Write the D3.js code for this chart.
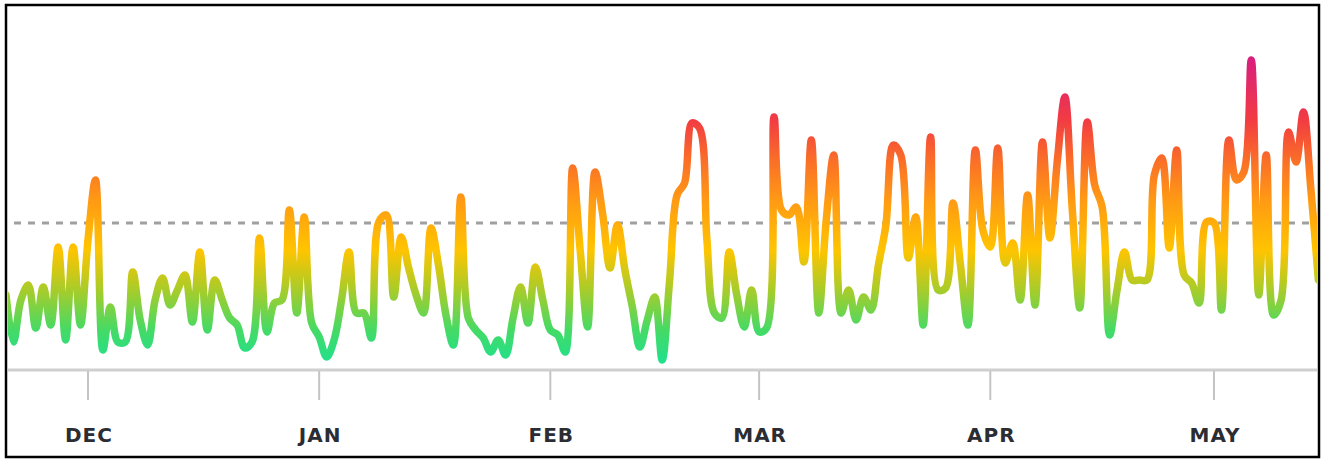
<!DOCTYPE html>
<html>
<head>
<meta charset="utf-8">
<script src="https://cdn.jsdelivr.net/npm/d3@7"></script>
<style>
  body { margin: 0; background: #fff; }
  svg { display: block; }
</style>
</head>
<body>
<script>
const dim = { width: 1332, height: 459 };
const svg = d3.select('body').append('svg').attr('width', dim.width).attr('height', dim.height);

// daily values, starting Nov 20
const startDate = new Date(2021, 10, 20);
const values = [
  75, 28, 70, 85, 42, 83, 45, 123, 30, 123, 45, 130, 190, 20, 63, 28, 28, 98, 50, 25,
  70, 92, 65, 80, 95, 48, 118, 40, 90, 70, 52, 45, 22, 28, 132, 38, 67, 70, 160, 57,
  153, 47, 33, 13, 30, 70, 118, 57, 57, 32, 148, 155, 73, 133, 102, 75, 57, 142, 105, 55,
  25, 173, 52, 40, 32, 18, 30, 15, 52, 83, 47, 103, 70, 40, 35, 18, 202, 120, 43, 198,
  157, 102, 145, 100, 63, 23, 50, 73, 10, 90, 175, 187, 247, 242, 130, 57, 52, 118, 75, 43,
  80, 38, 42, 253, 160, 155, 163, 108, 230, 57, 150, 215, 57, 80, 50, 73, 60, 105, 145, 225,
  215, 112, 153, 45, 233, 80, 82, 167, 105, 45, 220, 140, 123, 222, 107, 127, 70, 175, 65, 228,
  132, 210, 273, 160, 62, 248, 185, 163, 35, 80, 118, 90, 90, 90, 195, 212, 122, 220, 95, 87,
  67, 148, 147, 60, 230, 190, 198, 310, 75, 215, 55, 70, 238, 208, 258, 180, 90
];
const average = 147;
const tickMonths = [new Date(2021, 11, 1), new Date(2022, 0, 1), new Date(2022, 1, 1),
  new Date(2022, 2, 1), new Date(2022, 3, 1), new Date(2022, 4, 1)];
const tickLabels = ['DEC', 'JAN', 'FEB', 'MAR', 'APR', 'MAY'];

const data = values.map((v, i) => ({ date: d3.timeDay.offset(startDate, i), value: v }));

const x = d3.scaleTime().domain([tickMonths[0], tickMonths[5]]).range([88, 1214]);
const y = d3.scaleLinear().domain([0, 320]).range([370, 50]);

const defs = svg.append('defs');
defs.append('clipPath').attr('id', 'clip')
  .append('rect').attr('x', 8).attr('y', 0).attr('width', 1309).attr('height', 459);

// colour by height
const grad = defs.append('linearGradient')
  .attr('id', 'lineGrad')
  .attr('gradientUnits', 'userSpaceOnUse')
  .attr('x1', 0).attr('x2', 0)
  .attr('y1', y(0)).attr('y2', y(320));
[
  [0.03, '#22e08a'],
  [0.125, '#45da66'],
  [0.25, '#a8cc2a'],
  [0.375, '#ffc400'],
  [0.53, '#ff9a14'],
  [0.656, '#fa6e28'],
  [0.78, '#f23c42'],
  [0.97, '#da1e7e'],
].forEach(([o, c]) => grad.append('stop').attr('offset', o).attr('stop-color', c));

// axis line + ticks
svg.append('line')
  .attr('x1', 8).attr('x2', 1317)
  .attr('y1', 370).attr('y2', 370)
  .attr('stroke', '#cfcfcf').attr('stroke-width', 3);

const ticks = svg.append('g');
ticks.selectAll('line')
  .data(tickMonths)
  .enter()
  .append('line')
  .attr('x1', (d) => x(d)).attr('x2', (d) => x(d))
  .attr('y1', 371).attr('y2', 400)
  .attr('stroke', '#c4c4c4').attr('stroke-width', 2);

ticks.selectAll('text')
  .data(tickMonths)
  .enter()
  .append('text')
  .attr('x', (d) => x(d) + 1)
  .attr('y', 442)
  .attr('text-anchor', 'middle')
  .attr('font-family', '"DejaVu Sans", sans-serif')
  .attr('font-weight', 'bold')
  .attr('font-size', 20)
  .attr('letter-spacing', 1)
  .attr('fill', '#2b2d33')
  .text((d, i) => tickLabels[i]);

// average dashed line
svg.append('line')
  .attr('x1', 14).attr('x2', 1317)
  .attr('y1', y(average)).attr('y2', y(average))
  .attr('stroke', '#a0a0a0')
  .attr('stroke-width', 3)
  .attr('stroke-dasharray', '7,7');

const lineGen = d3.line()
  .x((d) => x(d.date))
  .y((d) => y(d.value))
  .curve(d3.curveCatmullRom.alpha(0.5));

svg.append('path')
  .datum(data)
  .attr('clip-path', 'url(#clip)')
  .attr('d', lineGen)
  .attr('fill', 'none')
  .attr('stroke', 'url(#lineGrad)')
  .attr('stroke-width', 7.5)
  .attr('stroke-linejoin', 'round')
  .attr('stroke-linecap', 'round');

// frame
svg.append('rect')
  .attr('x', 6).attr('y', 5)
  .attr('width', 1313).attr('height', 452)
  .attr('fill', 'none')
  .attr('stroke', '#000')
  .attr('stroke-width', 2.5);
</script>
</body>
</html>
